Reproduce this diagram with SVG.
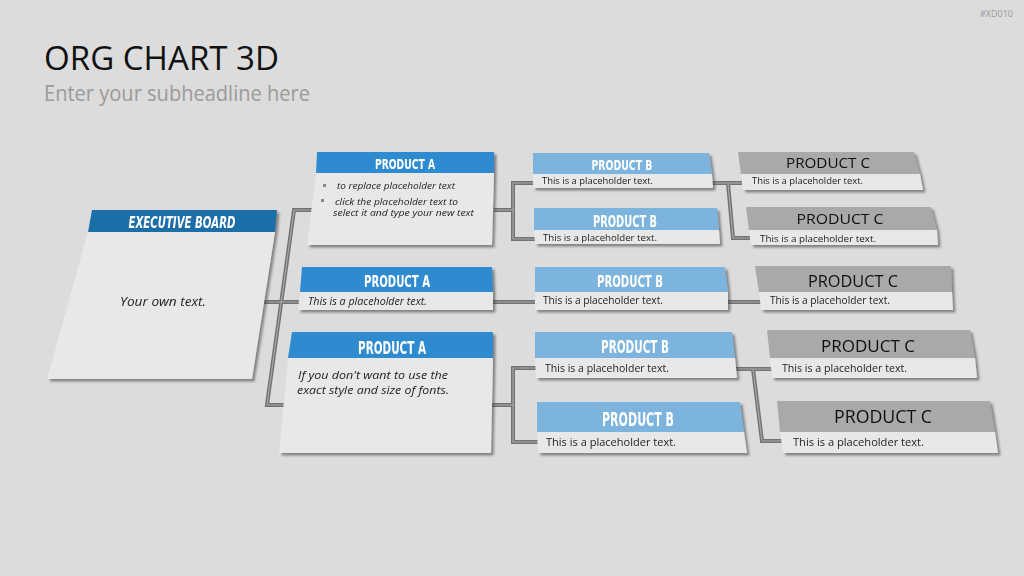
<svg xmlns="http://www.w3.org/2000/svg" width="1024" height="576" viewBox="0 0 1024 576">
<defs>
<filter id="sh" x="-10%" y="-10%" width="130%" height="140%">
<feDropShadow dx="2.5" dy="2.5" stdDeviation="1.2" flood-color="#3a3a3a" flood-opacity="0.55"/>
</filter>
<style>
.bg{fill:#dcdcdc}
.body{fill:#e8e8e8}
.hE{fill:#1f6ea8}
.hA{fill:#2e8bd0}
.hB{fill:#7bb4de}
.hC{fill:#a9a9a9}
.bar{fill:none;stroke:#727272;stroke-width:4;stroke-linejoin:miter}
.barhi{fill:none;stroke:#a9a9a9;stroke-width:1.2}
.hd{font-family:'DejaVu Sans Condensed','DejaVu Sans',sans-serif;font-stretch:condensed;font-weight:bold;fill:#ffffff;text-anchor:middle}
.hc{font-family:'Open Sans','DejaVu Sans',sans-serif;fill:#111111;text-anchor:middle}
.tx{font-family:'Open Sans','DejaVu Sans',sans-serif;fill:#222222}
.it{font-style:italic}
.bul{fill:#8a8a8a}
</style>
</defs>
<rect class="bg" x="0" y="0" width="1024" height="576"/>
<text x="1013" y="17" font-family="'Open Sans','DejaVu Sans',sans-serif" font-size="9" fill="#9a9a9a" text-anchor="end">#XD010</text>
<text x="44" y="70" font-family="'Open Sans','DejaVu Sans',sans-serif" font-size="32" fill="#111111" textLength="235" lengthAdjust="spacingAndGlyphs">ORG CHART 3D</text>
<text x="44" y="101" font-family="'Open Sans','DejaVu Sans',sans-serif" font-size="21" fill="#9a9a9a" textLength="266" lengthAdjust="spacingAndGlyphs">Enter your subheadline here</text>

<g id="connectors">
<path class="bar" d="M 312 210 H 294 L 267 405 H 286"/>
<path class="bar" d="M 262 302 H 300"/>
<path class="bar" d="M 494 210 H 514"/>
<path class="bar" d="M 535 183 H 513 V 239 H 536"/>
<path class="bar" d="M 712 183 H 742"/>
<path class="bar" d="M 728 183 L 733 238 H 750"/>
<path class="bar" d="M 493 302 H 536"/>
<path class="bar" d="M 727 302 H 762"/>
<path class="bar" d="M 491 405 H 514"/>
<path class="bar" d="M 536 368 H 513 V 442 H 538"/>
<path class="bar" d="M 736 369 H 772"/>
<path class="bar" d="M 753 369 L 762 441 H 784"/>
<path class="barhi" d="M 312 210 H 294 L 267 405 H 286"/>
<path class="barhi" d="M 262 302 H 300"/>
<path class="barhi" d="M 494 210 H 514"/>
<path class="barhi" d="M 535 183 H 513 V 239 H 536"/>
<path class="barhi" d="M 712 183 H 742"/>
<path class="barhi" d="M 728 183 L 733 238 H 750"/>
<path class="barhi" d="M 493 302 H 536"/>
<path class="barhi" d="M 727 302 H 762"/>
<path class="barhi" d="M 491 405 H 514"/>
<path class="barhi" d="M 536 368 H 513 V 442 H 538"/>
<path class="barhi" d="M 736 369 H 772"/>
<path class="barhi" d="M 753 369 L 762 441 H 784"/>
</g>

<g id="exec-board" filter="url(#sh)">
<polygon class="body" points="88,232 275,232 252,379 47,379"/>
<polygon class="hE" points="92,210 277,210 275,232 88,232"/>
<text class="hd it" x="182" y="228" font-size="16" textLength="107" lengthAdjust="spacingAndGlyphs">EXECUTIVE BOARD</text>
<text class="tx it" x="163" y="306" font-size="13" text-anchor="middle" textLength="86" lengthAdjust="spacingAndGlyphs">Your own text.</text>
</g>

<g id="product-a-1" filter="url(#sh)">
<polygon class="body" points="316,173 494,173 492,245 307,245"/>
<polygon class="hA" points="317,152 494,152 494,173 316,173"/>
<text class="hd" x="405" y="169" font-size="14" textLength="60" lengthAdjust="spacingAndGlyphs">PRODUCT A</text>
<rect class="bul" x="323" y="184" width="3" height="3"/>
<text class="tx it" x="337" y="189" font-size="9.5" textLength="118" lengthAdjust="spacingAndGlyphs">to replace placeholder text</text>
<rect class="bul" x="321" y="199" width="3" height="3"/>
<text class="tx it" x="335" y="205" font-size="9.5" textLength="123" lengthAdjust="spacingAndGlyphs">click the placeholder text to</text>
<text class="tx it" x="333" y="216" font-size="9.5" textLength="141" lengthAdjust="spacingAndGlyphs">select it and type your new text</text>
</g>

<g id="product-b-1" filter="url(#sh)">
<polygon class="body" points="533,174 712,174 713,188 533,188"/>
<polygon class="hB" points="533,153 709,153 712,174 533,174"/>
<text class="hd" x="622" y="170" font-size="14" textLength="61" lengthAdjust="spacingAndGlyphs">PRODUCT B</text>
<text class="tx" x="542" y="184" font-size="9.5" textLength="111" lengthAdjust="spacingAndGlyphs">This is a placeholder text.</text>
</g>

<g id="product-b-2" filter="url(#sh)">
<polygon class="body" points="534,230 719,230 720,244 535,244"/>
<polygon class="hB" points="534,208 717,208 719,230 534,230"/>
<text class="hd" x="625" y="227" font-size="15" textLength="64" lengthAdjust="spacingAndGlyphs">PRODUCT B</text>
<text class="tx" x="543" y="241" font-size="9.5" textLength="114" lengthAdjust="spacingAndGlyphs">This is a placeholder text.</text>
</g>

<g id="product-c-1" filter="url(#sh)">
<polygon class="body" points="741,174 920,174 923,190 743,190"/>
<polygon class="hC" points="738,152 914,152 920,174 741,174"/>
<text class="hc" x="828" y="168" font-size="14" textLength="84" lengthAdjust="spacingAndGlyphs">PRODUCT C</text>
<text class="tx" x="752" y="184" font-size="9.5" textLength="111" lengthAdjust="spacingAndGlyphs">This is a placeholder text.</text>
</g>

<g id="product-c-2" filter="url(#sh)">
<polygon class="body" points="749,230 937,230 938,245 751,245"/>
<polygon class="hC" points="746,207 931,207 937,230 749,230"/>
<text class="hc" x="840" y="224" font-size="15" textLength="87" lengthAdjust="spacingAndGlyphs">PRODUCT C</text>
<text class="tx" x="760" y="242" font-size="9.5" textLength="116" lengthAdjust="spacingAndGlyphs">This is a placeholder text.</text>
</g>

<g id="product-a-2" filter="url(#sh)">
<polygon class="body" points="300,292 493,292 493,310 298,310"/>
<polygon class="hA" points="302,267 492,267 493,292 300,292"/>
<text class="hd" x="397" y="287" font-size="16" textLength="66" lengthAdjust="spacingAndGlyphs">PRODUCT A</text>
<text class="tx it" x="308" y="305" font-size="10" textLength="119" lengthAdjust="spacingAndGlyphs">This is a placeholder text.</text>
</g>

<g id="product-b-3" filter="url(#sh)">
<polygon class="body" points="535,292 728,292 728,310 535,310"/>
<polygon class="hB" points="535,267 725,267 728,292 535,292"/>
<text class="hd" x="630" y="287" font-size="16" textLength="66" lengthAdjust="spacingAndGlyphs">PRODUCT B</text>
<text class="tx" x="543" y="304" font-size="10" textLength="120" lengthAdjust="spacingAndGlyphs">This is a placeholder text.</text>
</g>

<g id="product-c-3" filter="url(#sh)">
<polygon class="body" points="759,292 952,292 953,310 761,310"/>
<polygon class="hC" points="755,266 951,266 952,292 759,292"/>
<text class="hc" x="853" y="287" font-size="16" textLength="90" lengthAdjust="spacingAndGlyphs">PRODUCT C</text>
<text class="tx" x="770" y="304" font-size="10" textLength="120" lengthAdjust="spacingAndGlyphs">This is a placeholder text.</text>
</g>

<g id="product-a-3" filter="url(#sh)">
<polygon class="body" points="288,358 493,358 491,453 279,453"/>
<polygon class="hA" points="292,332 493,332 493,358 288,358"/>
<text class="hd" x="392" y="354" font-size="17" textLength="68" lengthAdjust="spacingAndGlyphs">PRODUCT A</text>
<text class="tx it" x="298" y="379" font-size="11" textLength="150" lengthAdjust="spacingAndGlyphs">If you don't want to use the</text>
<text class="tx it" x="297" y="394" font-size="11" textLength="152" lengthAdjust="spacingAndGlyphs">exact style and size of fonts.</text>
</g>

<g id="product-b-4" filter="url(#sh)">
<polygon class="body" points="535,358 735,358 737,378 536,378"/>
<polygon class="hB" points="535,332 732,332 735,358 535,358"/>
<text class="hd" x="635" y="353" font-size="17" textLength="68" lengthAdjust="spacingAndGlyphs">PRODUCT B</text>
<text class="tx" x="545" y="372" font-size="10.5" textLength="124" lengthAdjust="spacingAndGlyphs">This is a placeholder text.</text>
</g>

<g id="product-b-5" filter="url(#sh)">
<polygon class="body" points="537,432 744,432 747,453 538,453"/>
<polygon class="hB" points="537,402 740,402 744,432 537,432"/>
<text class="hd" x="638" y="426" font-size="19" textLength="72" lengthAdjust="spacingAndGlyphs">PRODUCT B</text>
<text class="tx" x="546" y="446" font-size="11" textLength="130" lengthAdjust="spacingAndGlyphs">This is a placeholder text.</text>
</g>

<g id="product-c-4" filter="url(#sh)">
<polygon class="body" points="770,358 975,358 977,378 772,378"/>
<polygon class="hC" points="767,330 970,330 975,358 770,358"/>
<text class="hc" x="868" y="352" font-size="17" textLength="94" lengthAdjust="spacingAndGlyphs">PRODUCT C</text>
<text class="tx" x="782" y="372" font-size="10.5" textLength="125" lengthAdjust="spacingAndGlyphs">This is a placeholder text.</text>
</g>

<g id="product-c-5" filter="url(#sh)">
<polygon class="body" points="780,432 995,432 998,453 783,453"/>
<polygon class="hC" points="777,401 990,401 995,432 780,432"/>
<text class="hc" x="883" y="423" font-size="18" textLength="98" lengthAdjust="spacingAndGlyphs">PRODUCT C</text>
<text class="tx" x="793" y="446" font-size="11" textLength="131" lengthAdjust="spacingAndGlyphs">This is a placeholder text.</text>
</g>
</svg>
